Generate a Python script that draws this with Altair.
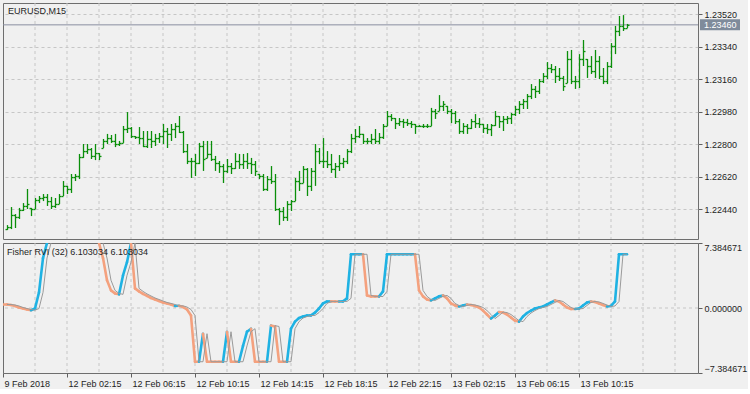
import altair as alt
import pandas as pd

# ---------------- data ----------------
bar_idx = list(range(1, 157))

opens = [
1.22329,1.22340,1.22407,1.22396,1.22435,1.22457,1.22446,1.22440,1.22490,1.22501,
1.22507,1.22484,1.22457,1.22468,1.22512,1.22568,1.22551,1.22617,1.22623,1.22728,
1.22761,1.22772,1.22734,1.22750,1.22778,1.22817,1.22833,1.22817,1.22800,1.22806,
1.22883,1.22889,1.22844,1.22839,1.22833,1.22789,1.22828,1.22817,1.22833,1.22844,
1.22872,1.22856,1.22883,1.22900,1.22867,1.22761,1.22706,1.22706,1.22695,1.22789,
1.22723,1.22745,1.22717,1.22695,1.22678,1.22651,1.22678,1.22667,1.22706,1.22689,
1.22706,1.22695,1.22689,1.22634,1.22623,1.22551,1.22606,1.22595,1.22440,1.22429,
1.22396,1.22468,1.22484,1.22595,1.22584,1.22662,1.22568,1.22651,1.22761,1.22706,
1.22706,1.22689,1.22662,1.22678,1.22695,1.22706,1.22761,1.22833,1.22844,1.22856,
1.22817,1.22817,1.22828,1.22817,1.22839,1.22900,1.22955,1.22944,1.22916,1.22927,
1.22922,1.22916,1.22911,1.22900,1.22900,1.22900,1.22900,1.22983,1.22983,1.23011,
1.23011,1.22983,1.22972,1.22927,1.22872,1.22900,1.22889,1.22927,1.22916,1.22911,
1.22889,1.22883,1.22905,1.22955,1.22927,1.22939,1.22944,1.22966,1.22994,1.23022,
1.23038,1.23066,1.23105,1.23094,1.23149,1.23177,1.23221,1.23215,1.23177,1.23166,
1.23138,1.23271,1.23149,1.23149,1.23271,1.23271,1.23232,1.23204,1.23260,1.23177,
1.23149,1.23232,1.23343,1.23426,1.23454,1.23442]

highs = [
1.22351,1.22451,1.22412,1.22446,1.22473,1.22551,1.22446,1.22501,1.22512,1.22523,
1.22523,1.22507,1.22501,1.22523,1.22595,1.22568,1.22634,1.22634,1.22745,1.22800,
1.22800,1.22778,1.22800,1.22750,1.22828,1.22856,1.22850,1.22856,1.22817,1.22900,
1.22977,1.22894,1.22844,1.22894,1.22872,1.22872,1.22872,1.22856,1.22861,1.22911,
1.22889,1.22911,1.22916,1.22955,1.22872,1.22800,1.22723,1.22745,1.22806,1.22817,
1.22817,1.22817,1.22734,1.22706,1.22689,1.22717,1.22695,1.22750,1.22745,1.22745,
1.22750,1.22723,1.22706,1.22634,1.22634,1.22623,1.22678,1.22634,1.22446,1.22451,
1.22484,1.22490,1.22612,1.22651,1.22678,1.22667,1.22667,1.22800,1.22778,1.22833,
1.22761,1.22745,1.22695,1.22739,1.22723,1.22772,1.22856,1.22883,1.22900,1.22856,
1.22833,1.22856,1.22883,1.22861,1.22911,1.22983,1.22966,1.22944,1.22944,1.22939,
1.22939,1.22927,1.22911,1.22905,1.22911,1.22911,1.23000,1.22994,1.23071,1.23038,
1.23011,1.22994,1.22983,1.22939,1.22916,1.22911,1.22939,1.22966,1.22944,1.22911,
1.22911,1.22911,1.22983,1.22955,1.22955,1.22955,1.22972,1.23011,1.23038,1.23049,
1.23077,1.23132,1.23121,1.23160,1.23193,1.23254,1.23243,1.23232,1.23221,1.23177,
1.23315,1.23321,1.23177,1.23298,1.23376,1.23271,1.23287,1.23321,1.23287,1.23221,
1.23254,1.23359,1.23454,1.23509,1.23514,1.23465]

lows = [
1.22324,1.22329,1.22335,1.22385,1.22429,1.22440,1.22401,1.22440,1.22473,1.22484,
1.22457,1.22440,1.22446,1.22468,1.22512,1.22523,1.22529,1.22595,1.22606,1.22723,
1.22745,1.22717,1.22711,1.22711,1.22778,1.22800,1.22806,1.22783,1.22789,1.22806,
1.22861,1.22833,1.22828,1.22800,1.22783,1.22778,1.22778,1.22789,1.22806,1.22800,
1.22778,1.22817,1.22833,1.22861,1.22750,1.22689,1.22612,1.22623,1.22689,1.22651,
1.22723,1.22706,1.22651,1.22640,1.22584,1.22640,1.22634,1.22662,1.22662,1.22662,
1.22662,1.22634,1.22623,1.22606,1.22540,1.22540,1.22579,1.22429,1.22351,1.22374,
1.22374,1.22429,1.22484,1.22540,1.22584,1.22512,1.22540,1.22568,1.22689,1.22667,
1.22667,1.22640,1.22612,1.22651,1.22667,1.22689,1.22750,1.22806,1.22833,1.22800,
1.22800,1.22800,1.22800,1.22800,1.22828,1.22900,1.22927,1.22883,1.22900,1.22889,
1.22900,1.22889,1.22856,1.22894,1.22889,1.22889,1.22900,1.22939,1.22983,1.22983,
1.22966,1.22916,1.22911,1.22856,1.22856,1.22856,1.22883,1.22889,1.22889,1.22861,
1.22856,1.22844,1.22900,1.22889,1.22872,1.22911,1.22911,1.22955,1.22966,1.22994,
1.22994,1.23049,1.23055,1.23077,1.23138,1.23160,1.23193,1.23138,1.23149,1.23094,
1.23138,1.23132,1.23105,1.23110,1.23232,1.23166,1.23188,1.23166,1.23160,1.23132,
1.23132,1.23221,1.23298,1.23398,1.23426,1.23442]

closes = [
1.22340,1.22407,1.22396,1.22435,1.22457,1.22468,1.22440,1.22490,1.22501,1.22507,
1.22484,1.22457,1.22468,1.22512,1.22568,1.22551,1.22617,1.22623,1.22728,1.22761,
1.22772,1.22734,1.22750,1.22734,1.22817,1.22833,1.22817,1.22800,1.22806,1.22883,
1.22889,1.22844,1.22839,1.22833,1.22789,1.22828,1.22817,1.22833,1.22844,1.22872,
1.22856,1.22883,1.22900,1.22867,1.22761,1.22706,1.22706,1.22695,1.22789,1.22717,
1.22745,1.22717,1.22695,1.22678,1.22651,1.22678,1.22667,1.22706,1.22689,1.22706,
1.22695,1.22689,1.22651,1.22623,1.22551,1.22606,1.22595,1.22440,1.22429,1.22396,
1.22468,1.22484,1.22595,1.22584,1.22662,1.22568,1.22651,1.22761,1.22706,1.22706,
1.22689,1.22662,1.22678,1.22695,1.22706,1.22761,1.22833,1.22844,1.22856,1.22817,
1.22817,1.22828,1.22817,1.22839,1.22900,1.22955,1.22944,1.22916,1.22927,1.22922,
1.22916,1.22911,1.22900,1.22900,1.22900,1.22900,1.22983,1.22972,1.23011,1.23022,
1.22983,1.22972,1.22927,1.22872,1.22900,1.22889,1.22927,1.22916,1.22911,1.22889,
1.22883,1.22905,1.22955,1.22927,1.22939,1.22944,1.22966,1.22994,1.23022,1.23038,
1.23066,1.23105,1.23094,1.23149,1.23177,1.23221,1.23215,1.23177,1.23166,1.23121,
1.23271,1.23149,1.23149,1.23271,1.23315,1.23232,1.23204,1.23260,1.23177,1.23149,
1.23232,1.23343,1.23426,1.23454,1.23442,1.23460]

# Fisher RVI main line, bars 0..156 (None = off the visible scale)
fisher = [
0.40, 0.40, 0.34, 0.23, 0.06, -0.06, -0.17, -0.25, -0.06, 1.77,
5.67, 7.384671, None, None, None, None, None, None, None, None,
None, None, None, None, 7.384671, 5.67, 3.15, 2.00, 1.66, 1.55,
3.70, 5.20, 7.384671, 2.23, 1.89, 1.60, 1.37, 1.14, 0.97, 0.80,
0.63, 0.52, 0.40, 0.23, 0.25, 0.11, -0.17, -0.86, -6.103034, -6.103034,
-2.92, -6.103034, -6.103034, -6.103034, -6.103034, -6.103034, -2.70, -6.103034, -6.103034, -6.103034,
-4.30, -2.69, -2.35, -6.103034, -6.103034, -6.103034, -6.103034, -2.00, -2.10, -6.103034,
-6.103034, -6.103034, -2.35, -1.55, -1.14, -0.97, -0.86, -0.84, -0.52, -0.06,
0.52, 0.74, 0.75, 0.74, 0.74, 0.75, 1.09, 6.103034, 6.103034, 6.103034,
6.103034, 1.43, 1.32, 1.32, 1.30, 1.89, 6.103034, 6.103034, 6.103034, 6.103034,
6.103034, 6.103034, 6.103034, 6.103034, 2.00, 1.32, 0.97, 0.86, 1.09, 1.32,
1.43, 1.09, 0.52, 0.29, 0.17, 0.29, 0.40, 0.34, 0.23, 0.06,
-0.29, -0.74, -1.20, -0.86, -0.46, -0.52, -0.74, -1.09, -1.43, -1.55,
-0.97, -0.57, -0.29, -0.06, 0.06, 0.17, 0.40, 0.63, 0.86, 0.74,
0.40, 0.06, -0.11, -0.11, -0.06, 0.29, 0.63, 0.74, 0.69, 0.52,
0.34, 0.17, 0.23, 0.74, 6.103034, 6.103034, 6.103034]

price_ticks = [1.22440, 1.22620, 1.22800, 1.22980, 1.23160, 1.23340, 1.23520]
ind_ticks = [-7.384671, 0.0, 7.384671]
current_price = 1.23460
tick_idx = [0, 16, 32, 48, 64, 80, 96, 112, 128, 144]
tick_labels = ["9 Feb 2018", "12 Feb 02:15", "12 Feb 06:15", "12 Feb 10:15",
               "12 Feb 14:15", "12 Feb 18:15", "12 Feb 22:15", "13 Feb 02:15",
               "13 Feb 06:15", "13 Feb 10:15"]
grid_idx = list(range(8, 172, 8))
symbol_title = "EURUSD,M15"
ind_title = "Fisher RVI (32) 6.103034 6.103034"

# ---------------- tables ----------------
ohlc = pd.DataFrame({"i": bar_idx, "o": opens, "h": highs, "l": lows, "c": closes})

main_rows, sig_rows = [], []
prev_dir = "down"
for k in range(1, len(fisher)):
    a, b = fisher[k - 1], fisher[k]
    if a is None or b is None:
        continue
    d = "up" if b > a else ("down" if b < a else prev_dir)
    prev_dir = d
    main_rows.append({"x0": k - 1, "x1": k, "y0": a, "y1": b, "dir": d})
    if k + 1 <= 156:
        sig_rows.append({"x0": k, "x1": k + 1, "y0": a, "y1": b})
main_df = pd.DataFrame(main_rows)
sig_df = pd.DataFrame(sig_rows)
grid_df = pd.DataFrame({"g": grid_idx})

FONT = "Liberation Sans"
TXT = "#1e1e1e"
GRID = "#c6c6c6"
GREEN = "#0a8f0a"
BW = 1.3
W = 695
XDOM = [0, W / 4.0]
xs = alt.Scale(domain=XDOM, nice=False, zero=False)

label_map = "{" + ",".join(f"'{t}':'{s}'" for t, s in zip(tick_idx, tick_labels)) + "}"

# ---------------- top panel ----------------
ys = alt.Scale(domain=[1.22274, 1.23581], nice=False, zero=False)


def yaxis_top():
    return alt.Axis(orient="right", values=price_ticks, format=".5f", grid=True,
                    gridDash=[3, 3], gridColor=GRID, tickSize=4, tickColor="#606060",
                    domain=False, labelFont=FONT, labelFontSize=9, labelColor=TXT,
                    labelPadding=2, labelOverlap=False, labelBound=False, title=None)


vgrid_top = alt.Chart(grid_df).mark_rule(color=GRID, strokeDash=[3, 3], strokeWidth=1).encode(
    x=alt.X("g:Q", scale=xs, axis=None))

bars_base = alt.Chart(ohlc)
hl = bars_base.mark_rule(color=GREEN, strokeWidth=BW, xOffset=0.5, clip=True).encode(
    x=alt.X("i:Q", scale=xs, axis=None),
    y=alt.Y("l:Q", scale=ys, axis=yaxis_top()),
    y2="h:Q")
op = bars_base.mark_rule(color=GREEN, strokeWidth=BW, xOffset=-1.5, x2Offset=0.5,
                         yOffset=0.5, y2Offset=0.5, clip=True).encode(
    x=alt.X("i:Q", scale=xs, axis=None), x2="i:Q",
    y=alt.Y("o:Q", scale=ys, axis=yaxis_top()))
cl = bars_base.mark_rule(color=GREEN, strokeWidth=BW, xOffset=0.5, x2Offset=2.5,
                         yOffset=0.5, y2Offset=0.5, clip=True).encode(
    x=alt.X("i:Q", scale=xs, axis=None), x2="i:Q",
    y=alt.Y("c:Q", scale=ys, axis=yaxis_top()))

cur_df = pd.DataFrame({"p": [current_price], "t": [f"{current_price:.5f}"]})
bid_line = alt.Chart(cur_df).mark_rule(color="#8a8fa0", strokeWidth=1).encode(
    y=alt.Y("p:Q", scale=ys, axis=yaxis_top()))
bid_box = alt.Chart(cur_df).mark_rule(color="#7f8b9b", strokeWidth=11, strokeCap="butt", clip=False).encode(
    x=alt.value(W + 2), x2=alt.value(W + 42), y=alt.Y("p:Q", scale=ys, axis=yaxis_top()))
bid_txt = alt.Chart(cur_df).mark_text(color="white", font=FONT, fontSize=9, align="left",
                                      baseline="middle", clip=False).encode(
    x=alt.value(W + 6), y=alt.Y("p:Q", scale=ys, axis=yaxis_top()), text="t:N")

title_top = alt.Chart(pd.DataFrame({"t": [symbol_title]})).mark_text(
    font=FONT, fontSize=9, color=TXT, align="left", baseline="middle").encode(
    x=alt.value(5), y=alt.value(8), text="t:N")

top = alt.layer(vgrid_top, bid_line, hl, op, cl, bid_box, bid_txt, title_top).properties(
    width=W, height=236)

# ---------------- bottom panel ----------------
ys2 = alt.Scale(domain=[-7.384671, 7.384671], nice=False, zero=False)


def yaxis_bot():
    return alt.Axis(orient="right", values=ind_ticks, format=".6f", grid=False,
                    tickSize=4, tickColor="#606060", domain=False, labelFont=FONT,
                    labelFontSize=9, labelColor=TXT, labelPadding=2, labelFlush=True,
                    labelOverlap=False, title=None)


def xaxis_bot():
    return alt.Axis(orient="bottom", values=tick_idx, labelExpr=f"{label_map}[datum.value]",
                    labelAlign="left", labelOffset=1, labelBaseline="top", labelPadding=2,
                    tickSize=4, tickColor="#606060", domain=False, grid=False,
                    labelFont=FONT, labelFontSize=9, labelColor=TXT, title=None,
                    labelOverlap=False, labelFlush=False)


vgrid_bot = alt.Chart(grid_df).mark_rule(color=GRID, strokeDash=[3, 3], strokeWidth=1).encode(
    x=alt.X("g:Q", scale=xs, axis=xaxis_bot()))
zero_df = pd.DataFrame({"z": [0.0]})
hgrid_bot = alt.Chart(zero_df).mark_rule(color=GRID, strokeDash=[3, 3], strokeWidth=1).encode(
    y=alt.Y("z:Q", scale=ys2, axis=yaxis_bot()))

main_line = alt.Chart(main_df).mark_rule(strokeWidth=2.6, strokeCap="round", clip=True).encode(
    x=alt.X("x0:Q", scale=xs, axis=xaxis_bot()), x2="x1:Q",
    y=alt.Y("y0:Q", scale=ys2, axis=yaxis_bot()), y2="y1:Q",
    color=alt.Color("dir:N", scale=alt.Scale(domain=["up", "down"],
                                             range=["#1fb2e3", "#f4a17e"]), legend=None))
sig_line = alt.Chart(sig_df).mark_rule(strokeWidth=1, color="#9a9a9a", clip=True).encode(
    x=alt.X("x0:Q", scale=xs, axis=xaxis_bot()), x2="x1:Q",
    y=alt.Y("y0:Q", scale=ys2, axis=yaxis_bot()), y2="y1:Q")

title_bot = alt.Chart(pd.DataFrame({"t": [ind_title]})).mark_text(
    font=FONT, fontSize=9, color=TXT, align="left", baseline="middle").encode(
    x=alt.value(4), y=alt.value(9), text="t:N")

bottom = alt.layer(vgrid_bot, hgrid_bot, main_line, sig_line, title_bot).properties(
    width=W, height=130)

chart = alt.vconcat(top, bottom, spacing=4, bounds="flush").properties(
    padding={"left": 2, "top": 2, "right": 0, "bottom": 0},
    background="#f0f0f0",
).configure_view(stroke="#6e6e6e", strokeWidth=1, fill="#f0f0f0").configure_concat(spacing=4)

chart.save("out.html", embed_options={"renderer": "svg", "actions": False})
